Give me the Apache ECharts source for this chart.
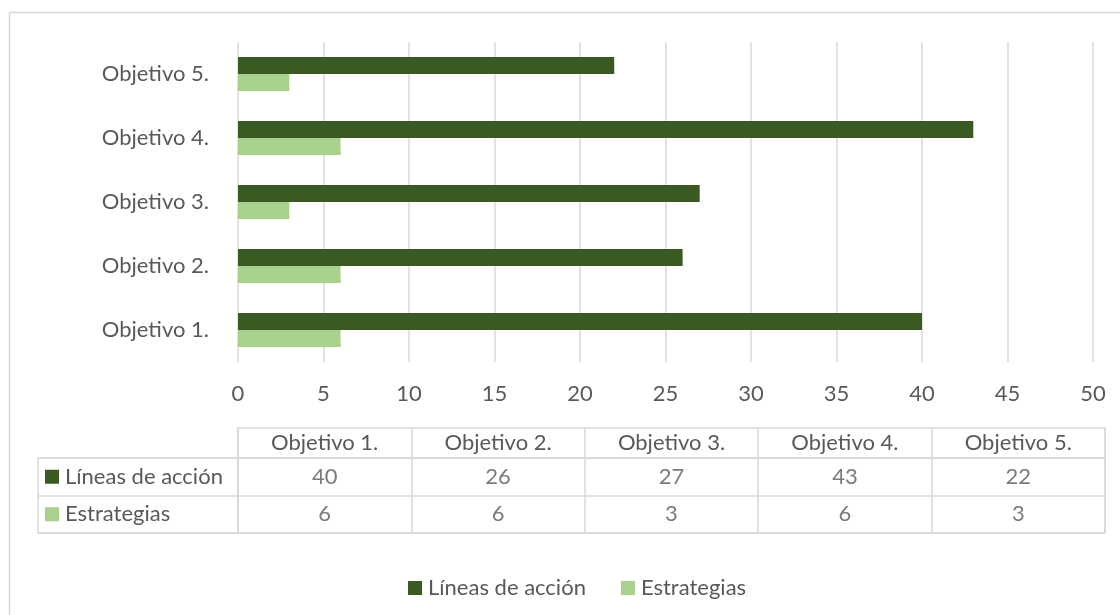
<!DOCTYPE html>
<html>
<head>
<meta charset="utf-8">
<script src="https://cdn.jsdelivr.net/npm/echarts@6/dist/echarts.min.js"></script>
<style>
  html, body { margin: 0; padding: 0; background: #fff; }
  #chart { width: 1120px; height: 615px; }
</style>
</head>
<body>
<div id="chart"></div>
<script>
const objetivos = ["Objetivo 1.", "Objetivo 2.", "Objetivo 3.", "Objetivo 4.", "Objetivo 5."];
const lineasAccion = [40, 26, 27, 43, 22];
const estrategias = [6, 6, 3, 6, 3];
const seriesNames = ["Líneas de acción", "Estrategias"];
const xTicks = [0, 50, 5]; // min, max, interval

const darkGreen = "#3a5a22";
const lightGreen = "#a9d18e";
const textColor = "#595959";
const lineColor = "#d9d9d9";
const font = "Lato";

const chart = echarts.init(document.getElementById("chart"));

const hidden = { show: false };

const option = {
  animation: false,
  textStyle: { fontFamily: font, color: textColor },
  graphic: [
    {
      type: "rect",
      shape: { x: 9.5, y: 12.5, width: 1200, height: 700 },
      style: { fill: "none", stroke: lineColor, lineWidth: 1.5 },
      silent: true,
    },
  ],
  legend: {
    data: seriesNames,
    left: 403,
    top: 572,
    icon: "rect",
    itemWidth: 14,
    itemHeight: 14,
    itemGap: 35,
    textStyle: { fontFamily: font, fontSize: 22, color: textColor, padding: [0, 0, 0, 1] },
  },
  grid: [
    // main bar chart
    { left: 238, top: 42, width: 855, height: 320 },
    // table header
    { left: 238, top: 428, width: 867, height: 30, show: true, borderColor: lineColor, borderWidth: 1.5 },
    // table body
    { left: 238, top: 458, width: 867, height: 75, show: true, borderColor: lineColor, borderWidth: 1.5 },
    // row labels
    { left: 38, top: 458, width: 200, height: 75, show: true, borderColor: lineColor, borderWidth: 1.5 },
  ],
  xAxis: [
    {
      gridIndex: 0,
      type: "value",
      min: xTicks[0],
      max: xTicks[1],
      interval: xTicks[2],
      axisLine: hidden,
      axisTick: hidden,
      axisLabel: { fontSize: 22, color: textColor, margin: 21, fontFamily: font },
      splitLine: { lineStyle: { color: lineColor, width: 1.5 } },
    },
    {
      gridIndex: 1,
      type: "category",
      data: objetivos,
      position: "bottom",
      axisLine: hidden,
      axisTick: hidden,
      axisLabel: { inside: true, margin: 4, fontSize: 22, color: textColor, fontFamily: font, interval: 0 },
      splitLine: { show: true, interval: 0, lineStyle: { color: lineColor, width: 1.5 } },
    },
    {
      gridIndex: 2,
      type: "category",
      data: objetivos,
      axisLine: hidden,
      axisTick: hidden,
      axisLabel: hidden,
      splitLine: { show: true, interval: 0, lineStyle: { color: lineColor, width: 1.5 } },
    },
    { gridIndex: 3, type: "value", show: false },
  ],
  yAxis: [
    {
      gridIndex: 0,
      type: "category",
      data: objetivos,
      axisLine: hidden,
      axisTick: hidden,
      axisLabel: { fontSize: 22, color: textColor, margin: 29, fontFamily: font },
    },
    { gridIndex: 1, type: "category", data: [""], show: false },
    {
      gridIndex: 2,
      type: "category",
      data: seriesNames,
      inverse: true,
      axisLine: hidden,
      axisTick: hidden,
      axisLabel: hidden,
      splitLine: { show: true, interval: 0, lineStyle: { color: lineColor, width: 1.5 } },
    },
    {
      gridIndex: 3,
      type: "category",
      data: seriesNames,
      inverse: true,
      axisLine: hidden,
      axisTick: hidden,
      splitLine: { show: true, interval: 0, lineStyle: { color: lineColor, width: 1.5 } },
      axisLabel: {
        inside: true,
        margin: 7,
        fontFamily: font,
        formatter: (value, index) => `{s${index}|}{t|${value}}`,
        rich: {
          s0: { width: 14, height: 14, backgroundColor: darkGreen },
          s1: { width: 14, height: 14, backgroundColor: lightGreen },
          t: { fontSize: 22, color: textColor, fontFamily: font, padding: [0, 0, 0, 6] },
        },
      },
    },
  ],
  series: [
    {
      name: seriesNames[0],
      type: "bar",
      xAxisIndex: 0,
      yAxisIndex: 0,
      data: lineasAccion,
      barWidth: 17,
      barGap: "0%",
      itemStyle: { color: darkGreen },
    },
    {
      name: seriesNames[1],
      type: "bar",
      xAxisIndex: 0,
      yAxisIndex: 0,
      data: estrategias,
      barWidth: 17,
      barGap: "0%",
      itemStyle: { color: lightGreen },
    },
    ...[lineasAccion, estrategias].map((values, row) => ({
      name: "tabla" + row,
      type: "scatter",
      xAxisIndex: 2,
      yAxisIndex: 2,
      symbolSize: 1,
      itemStyle: { color: "transparent" },
      silent: true,
      data: values.map((v, i) => [i, row, v]),
      label: {
        show: true,
        position: "inside",
        formatter: (p) => String(p.value[2]),
        fontSize: 22,
        color: textColor,
        fontFamily: font,
      },
    })),
  ],
};

chart.setOption(option);
</script>
</body>
</html>
